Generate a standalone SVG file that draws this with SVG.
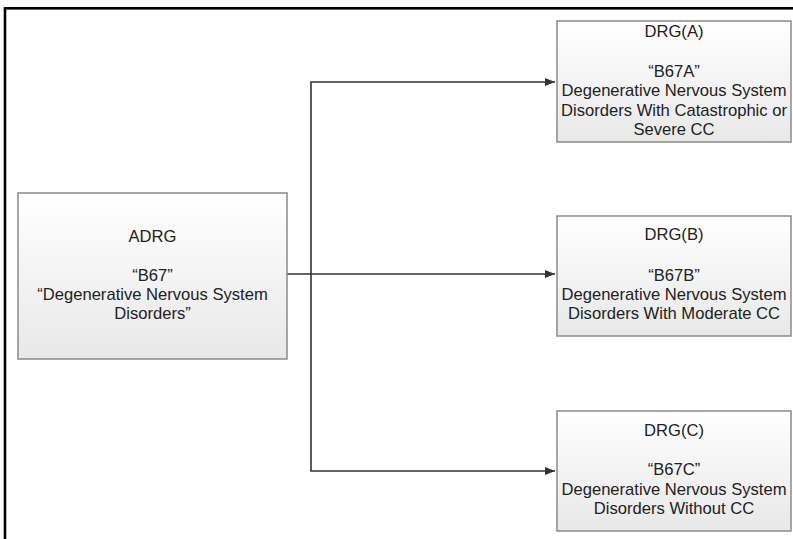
<svg xmlns="http://www.w3.org/2000/svg" width="793" height="539" viewBox="0 0 793 539">
<defs>
<linearGradient id="g" x1="0" y1="0" x2="0" y2="1">
<stop offset="0" stop-color="#ffffff"/>
<stop offset="1" stop-color="#e8e8e8"/>
</linearGradient>
<marker id="arr" markerWidth="10" markerHeight="8" refX="10" refY="4" orient="auto" markerUnits="userSpaceOnUse">
<path d="M0,0 L10,4 L0,8 Z" fill="#333"/>
</marker>
<style>
.box{fill:url(#g);stroke:#8a8a8a;stroke-width:1.5}
.t{font-family:"Liberation Sans",Arial,sans-serif;font-size:16.6px;fill:#222;text-anchor:middle}
.c{fill:none;stroke:#333;stroke-width:1.6}
</style>
</defs>
<rect x="5" y="8.3" width="800" height="540" fill="none" stroke="#000" stroke-width="2.6"/>
<g id="connectors">
<path class="c" d="M287,274 L555,274" marker-end="url(#arr)"/>
<path class="c" d="M311,274 L311,82 L555,82" marker-end="url(#arr)"/>
<path class="c" d="M311,274 L311,471 L555,471" marker-end="url(#arr)"/>
</g>
<g id="adrg">
<rect class="box" x="18" y="193" width="269" height="166"/>
<text class="t" x="152.5" y="242">ADRG</text>
<text class="t" x="152.5" y="281">“B67”</text>
<text class="t" x="152.5" y="300">“Degenerative Nervous System</text>
<text class="t" x="152.5" y="319">Disorders”</text>
</g>
<g id="drgA">
<rect class="box" x="557" y="21" width="234" height="121"/>
<text class="t" x="674" y="37">DRG(A)</text>
<text class="t" x="674" y="77">“B67A”</text>
<text class="t" x="674" y="96">Degenerative Nervous System</text>
<text class="t" x="674" y="116">Disorders With Catastrophic or</text>
<text class="t" x="674" y="135">Severe CC</text>
</g>
<g id="drgB">
<rect class="box" x="557" y="216" width="234" height="120"/>
<text class="t" x="674" y="240">DRG(B)</text>
<text class="t" x="674" y="281">“B67B”</text>
<text class="t" x="674" y="300">Degenerative Nervous System</text>
<text class="t" x="674" y="319">Disorders With Moderate CC</text>
</g>
<g id="drgC">
<rect class="box" x="557" y="411" width="234" height="120"/>
<text class="t" x="674" y="436">DRG(C)</text>
<text class="t" x="674" y="475">“B67C”</text>
<text class="t" x="674" y="495">Degenerative Nervous System</text>
<text class="t" x="674" y="514">Disorders Without CC</text>
</g>
</svg>
